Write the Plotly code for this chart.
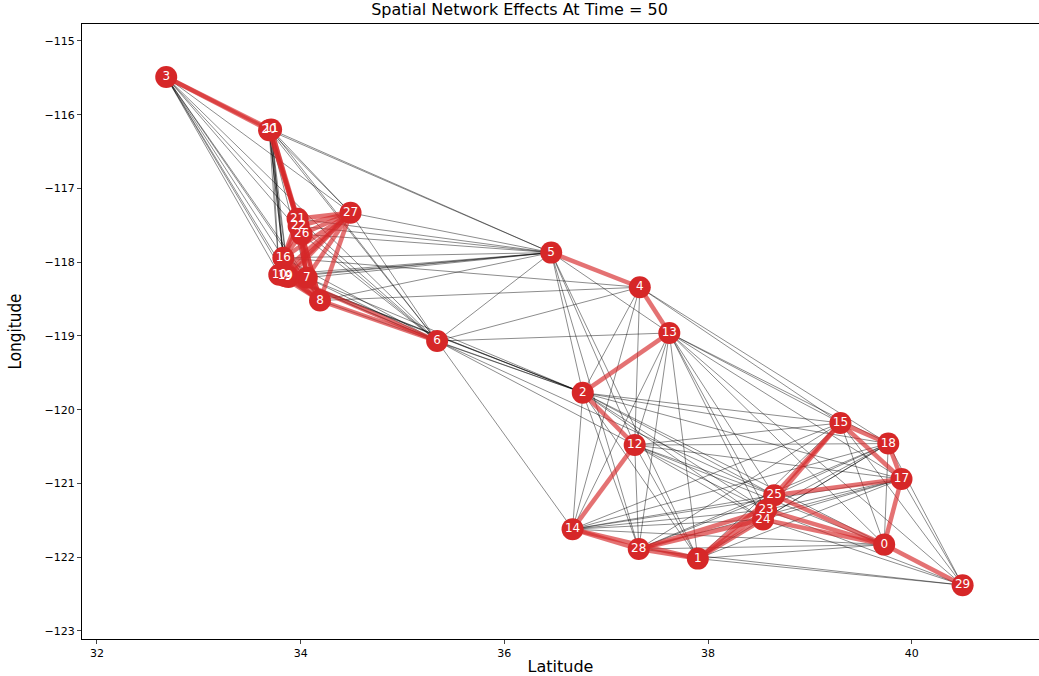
import plotly.graph_objects as go

# Node data (latitude on x, longitude on y)
node_ids = [0, 1, 2, 3, 4, 5, 6, 7, 8, 9, 10, 11, 12, 13, 14,
            15, 16, 17, 18, 19, 20, 21, 22, 23, 24, 25, 26, 27, 28, 29]
lat = [39.73, 37.90, 36.77, 32.68, 37.33, 36.46, 35.34, 34.06, 34.19, 33.88,
       33.79, 33.71, 37.28, 37.62, 36.67, 39.30, 33.83, 39.90, 39.77, 33.85,
       33.69, 33.97, 33.98, 38.57, 38.54, 38.65, 34.01, 34.49, 37.32, 40.50]
lon = [-121.83, -122.02, -119.77, -115.49, -118.34, -117.87, -119.07, -118.21, -118.52, -118.20,
       -118.17, -116.20, -120.48, -118.96, -121.62, -120.18, -117.94, -120.94, -120.46, -118.19,
       -116.21, -117.41, -117.51, -121.36, -121.49, -121.16, -117.62, -117.33, -121.89, -122.38]

# Strong (red) links
red_edges = [
    (3, 20), (3, 11), (20, 21), (11, 22), (20, 26), (11, 21),
    (21, 22), (21, 26), (22, 26), (21, 16), (22, 16), (26, 16), (26, 7), (21, 7), (22, 7),
    (16, 10), (16, 19), (16, 9), (16, 7), (16, 8), (10, 19), (10, 9), (19, 9),
    (9, 7), (19, 7), (10, 8), (19, 8), (9, 8), (7, 8), (26, 8), (21, 8),
    (27, 21), (27, 22), (27, 26), (27, 16), (27, 10), (27, 19), (27, 9), (27, 7), (27, 8),
    (8, 6), (9, 6), (5, 4), (4, 13), (13, 2), (2, 12), (12, 14), (14, 28), (14, 1),
    (28, 1), (28, 24), (28, 23), (1, 23), (1, 24), (1, 25),
    (25, 15), (23, 15), (25, 17), (15, 18), (15, 17), (18, 17), (17, 0), (0, 29),
    (25, 0), (23, 0), (24, 0),
]

# Weak (grey) links
grey_edges = [
    (3, 16), (3, 10), (3, 19), (3, 9), (3, 7), (3, 8), (3, 26), (3, 21), (3, 27), (3, 6),
    (20, 16), (20, 10), (20, 19), (20, 9), (11, 16), (11, 10), (11, 19), (11, 9),
    (20, 27), (11, 27), (20, 5), (11, 5), (20, 6), (11, 6), (20, 7), (11, 8),
    (21, 5), (22, 5), (26, 5), (16, 5), (10, 5), (19, 5), (9, 5), (7, 5), (8, 5), (27, 5),
    (21, 6), (22, 6), (26, 6), (16, 6), (10, 6), (19, 6), (7, 6), (27, 6),
    (8, 4), (16, 4), (7, 2), (8, 2), (9, 2), (19, 2), (10, 2),
    (6, 5), (6, 4), (6, 13), (6, 2), (6, 14), (6, 12), (6, 25),
    (5, 2), (5, 12), (5, 28), (5, 1), (5, 13),
    (4, 2), (4, 12), (4, 14), (4, 15), (4, 18),
    (13, 14), (13, 28), (13, 12), (13, 1), (13, 23), (13, 24), (13, 25), (13, 0),
    (13, 15), (13, 18), (13, 17), (13, 29),
    (2, 15), (2, 18), (2, 14), (2, 28), (2, 1), (2, 25), (2, 23), (2, 24), (2, 0), (2, 17),
    (12, 25), (12, 23), (12, 24), (12, 0), (12, 17), (12, 18), (12, 15), (12, 28), (12, 1),
    (14, 25), (14, 23), (14, 24), (14, 0), (14, 17), (14, 18), (14, 15),
    (28, 25), (28, 0), (28, 17), (28, 15), (28, 18), (28, 29),
    (1, 0), (1, 29), (1, 15), (1, 18), (1, 17),
    (29, 17), (29, 18), (29, 15), (29, 24), (29, 23),
    (0, 15), (0, 18), (23, 18), (24, 18), (24, 17), (23, 17), (25, 18),
]

title_text = "Spatial Network Effects At Time = 50"
x_title = "Latitude"
y_title = "Longitude"
x_ticks = [32, 34, 36, 38, 40]
y_ticks = [-115, -116, -117, -118, -119, -120, -121, -122, -123]

idx = {n: i for i, n in enumerate(node_ids)}


def edge_xy(edges):
    xs, ys = [], []
    for a, b in edges:
        xs += [lat[idx[a]], lat[idx[b]], None]
        ys += [lon[idx[a]], lon[idx[b]], None]
    return xs, ys


fig = go.Figure()

gx, gy = edge_xy(grey_edges)
fig.add_trace(go.Scatter(x=gx, y=gy, mode="lines",
                         line=dict(color="rgba(0,0,0,0.5)", width=0.9),
                         hoverinfo="skip", showlegend=False))

for a, b in red_edges:
    x, y = edge_xy([(a, b)])
    fig.add_trace(go.Scatter(x=x, y=y, mode="lines",
                             line=dict(color="rgba(214,39,40,0.65)", width=4.5),
                             hoverinfo="skip", showlegend=False))

fig.add_trace(go.Scatter(
    x=lat, y=lon, mode="markers+text",
    text=[str(n) for n in node_ids], textposition="middle center",
    textfont=dict(color="white", size=12, family="DejaVu Sans"),
    marker=dict(color="#d62728", size=22, line=dict(width=0)),
    showlegend=False))

fig.update_layout(
    width=1039, height=676, autosize=False,
    margin=dict(l=82, r=0, t=24, b=37, autoexpand=False),
    plot_bgcolor="white", paper_bgcolor="white",
    title=dict(text=title_text, x=0.5, xanchor="center", y=0.995, yanchor="top",
               font=dict(size=16, family="DejaVu Sans", color="black")),
    font=dict(family="DejaVu Sans", color="black"),
)
fig.update_xaxes(range=[31.853, 41.25], tickvals=x_ticks, ticks="outside", ticklen=4,
                 showgrid=False, zeroline=False, showline=True, linecolor="black",
                 linewidth=1, mirror=True, tickfont=dict(size=11),
                 title=dict(text=x_title, font=dict(size=16), standoff=2))
fig.update_yaxes(range=[-123.11, -114.77], tickvals=y_ticks, ticks="outside", ticklen=4,
                 showgrid=False, zeroline=False, showline=True, linecolor="black",
                 linewidth=1, mirror=True, tickfont=dict(size=11),
                 title=dict(text=y_title, font=dict(size=17, family="Liberation Sans Narrow, DejaVu Sans Condensed"), standoff=18))

fig.write_html("out.html", config={"responsive": False, "displayModeBar": False},
               post_script="document.body.style.margin='0';document.body.style.overflow='hidden';")
